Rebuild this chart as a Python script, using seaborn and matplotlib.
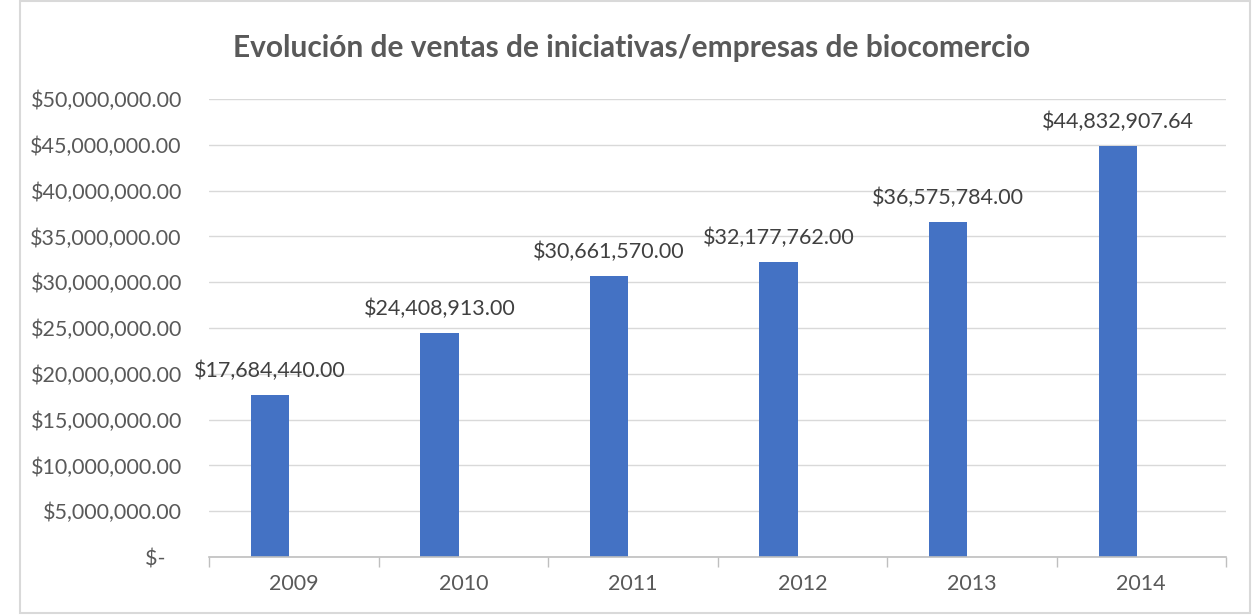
import pandas as pd
import numpy as np
import seaborn as sns
import matplotlib.pyplot as plt
from matplotlib.ticker import FuncFormatter, MultipleLocator
from matplotlib.patches import Rectangle

anios = ["2009", "2010", "2011", "2012", "2013", "2014"]
ventas = [17684440.00, 24408913.00, 30661570.00, 32177762.00, 36575784.00, 44832907.64]

titulo = "Evolución de ventas de iniciativas/empresas de biocomercio"
azul = "#4472C4"
gris_txt = "#595959"

sns.set_theme(style="white")
plt.rcParams["font.family"] = ["Lato", "DejaVu Sans"]

df = pd.DataFrame({"anio": anios, "ventas": ventas})

fig = plt.figure(figsize=(12.53, 6.15), dpi=100)
ax = fig.add_axes([0.1668, 0.0943, 0.9785 - 0.1668, 0.839 - 0.0943])

sns.barplot(data=df, x="anio", y="ventas", color=azul, width=0.225, saturation=1, ax=ax)

# bars sit a bit left of the category centre, like the Excel original
for p in ax.patches:
    p.set_x(p.get_x() - 0.14)
    p.set_edgecolor("none")

for p, v in zip(ax.patches, ventas):
    cx = p.get_x() + p.get_width() / 2
    ax.annotate(f"${v:,.2f}", (cx, v), xytext=(0, 10), textcoords="offset points",
                ha="center", va="bottom", fontsize=15.5, color="#404040")

ax.set_xlim(-0.5, 5.5)
ax.set_ylim(0, 50000000)
ax.yaxis.set_major_locator(MultipleLocator(5000000))
ax.yaxis.set_major_formatter(FuncFormatter(lambda y, _: "$-   " if y == 0 else f"${y:,.2f}"))
ax.grid(axis="y", color="#d9d9d9", linewidth=1)
ax.set_axisbelow(True)

ax.set_xticks(np.arange(-0.5, 6, 1), minor=True)
ax.tick_params(axis="x", which="major", length=0, pad=12, labelsize=15.5, labelcolor=gris_txt)
ax.tick_params(axis="x", which="minor", length=7, width=1, color="#bfbfbf", bottom=True)
ax.tick_params(axis="y", length=0, pad=19.5, labelsize=15.5, labelcolor=gris_txt)

for s in ["top", "right", "left"]:
    ax.spines[s].set_visible(False)
ax.spines["bottom"].set_color("#bfbfbf")
ax.spines["bottom"].set_linewidth(1.2)

ax.set_xlabel("")
ax.set_ylabel("")

fig.text(0.504, 0.922, titulo, ha="center", va="center", fontsize=21.5,
         fontweight="bold", color=gris_txt)

fig.patches.append(Rectangle((0.016, 0.004), 0.982, 0.994, transform=fig.transFigure,
                             fill=False, edgecolor="#d9d9d9", linewidth=1.5))

fig.savefig("out.png", dpi=100, facecolor="white")
